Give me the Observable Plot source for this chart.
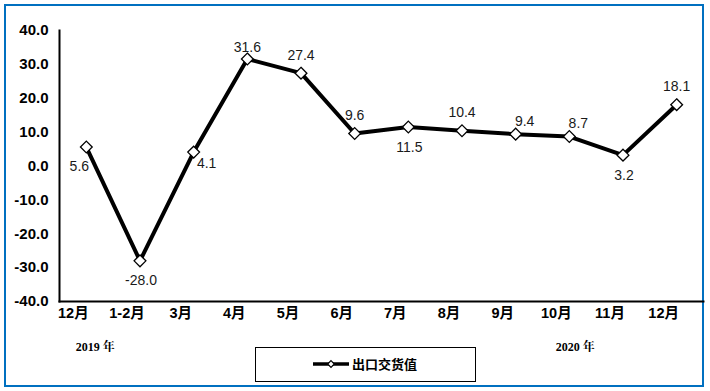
<!DOCTYPE html>
<html>
<head>
<meta charset="utf-8">
<script src="https://cdn.jsdelivr.net/npm/d3@7"></script>
<script src="https://cdn.jsdelivr.net/npm/@observablehq/plot@0.6"></script>
<style>
  html, body { margin: 0; padding: 0; background: #fff; }
  #wrap { position: relative; width: 710px; height: 391px; background: #fff; overflow: hidden; }
  #border { position: absolute; left: 4px; top: 4px; width: 696px; height: 379px; border: 2.5px solid #0070C0; }
  #chart { position: absolute; left: 0; top: 0; }
  #legend { position: absolute; left: 255px; top: 347px; width: 219px; height: 33px; border: 1.5px solid #000; background: #fff;
            font-family: "Noto Sans CJK SC", sans-serif; font-weight: bold; font-size: 13px; }
  #legend svg { position: absolute; left: 56px; top: 8px; }
  #legend span { position: absolute; left: 96px; top: 7px; line-height: 18px; color: #000; }
</style>
</head>
<body>
<div id="wrap">
  <div id="border"></div>
  <div id="chart"></div>
  <div id="legend"></div>
</div>
<script>
// ---- data ----
const months = ["12月", "1-2月", "3月", "4月", "5月", "6月", "7月", "8月", "9月", "10月", "11月", "12月"];
const values = [5.6, -28.0, 4.1, 31.6, 27.4, 9.6, 11.5, 10.4, 9.4, 8.7, 3.2, 18.1];
const yTicks = [-40, -30, -20, -10, 0, 10, 20, 30, 40];
const yearLabels = ["2019 年", "2020 年"];
const yearAt = [0, 9];
const seriesName = "出口交货值";
const labelPlacement = ["belowLeft", "below", "right", "aboveNear", "above", "above", "below", "above", "aboveRight", "aboveRight", "below", "above"];

// ---- build ----
const placements = {
  belowLeft: [-7, 19],
  below: [1, 20],
  right: [13, 11],
  aboveNear: [0, -11],
  above: [0, -18],
  aboveRight: [9, -13]
};
const rows = values.map((v, i) => ({i, v, p: labelPlacement[i]}));
const yearRows = yearLabels.map((t, k) => ({i: yearAt[k], t}));
const yearDx = [9, 6];

const labelMarks = Object.entries(placements).map(([name, [dx, dy]]) =>
  Plot.text(rows.filter(d => d.p === name), {
    x: "i", y: "v", text: d => d.v.toFixed(1), dx, dy,
    fontSize: 14, fill: "#1a1a1a", fontFamily: "Liberation Sans, Arial, sans-serif"
  })
);

const yearMarks = yearRows.map((d, k) =>
  Plot.text([d], {x: "i", y: -40, text: "t", dy: 46, dx: yearDx[k], lineAnchor: "middle",
    fontSize: 12, fontWeight: "bold", fill: "#000",
    fontFamily: "Liberation Serif, Noto Serif CJK SC, Noto Sans CJK SC, serif"})
);

const chart = Plot.plot({
  width: 710,
  height: 391,
  marginTop: 30,
  marginBottom: 90,
  marginLeft: 59,
  marginRight: 7,
  style: {background: "transparent", fontFamily: "Liberation Sans, Arial, sans-serif", color: "#000", overflow: "visible"},
  x: {type: "point", domain: d3.range(months.length), padding: 0.5, round: false, axis: null},
  y: {domain: [-40, 40], axis: null},
  marks: [
    Plot.axisY({ticks: yTicks, tickSize: 0, tickPadding: 11, tickFormat: d => d.toFixed(1), label: null,
      fontSize: 15, fontWeight: "bold", fill: "#000"}),
    Plot.axisX({tickSize: 0, tickPadding: 6, tickFormat: i => months[i], dx: -13, label: null,
      fontSize: 14.5, fontWeight: "bold", fill: "#000", fontFamily: "Liberation Sans, Noto Sans CJK SC, sans-serif"}),
    Plot.frame({anchor: "left", stroke: "#000", strokeWidth: 2}),
    Plot.frame({anchor: "bottom", stroke: "#000", strokeWidth: 2}),
    Plot.line(rows, {x: "i", y: "v", stroke: "#000", strokeWidth: 4, strokeLinejoin: "miter"}),
    Plot.dot(rows, {x: "i", y: "v", symbol: "diamond2", r: 5.3, fill: "#fff", stroke: "#000", strokeWidth: 1.3}),
    ...labelMarks,
    ...yearMarks
  ]
});
document.getElementById("chart").appendChild(chart);

// legend
const leg = document.getElementById("legend");
const legSvg = d3.create("svg").attr("width", 40).attr("height", 16);
legSvg.append("line").attr("x1", 1).attr("x2", 37).attr("y1", 8).attr("y2", 8).attr("stroke", "#000").attr("stroke-width", 3.5);
legSvg.append("path").attr("d", d3.symbol(d3.symbolDiamond2, 28)()).attr("transform", "translate(19,8)")
  .attr("fill", "#fff").attr("stroke", "#000").attr("stroke-width", 1.2);
leg.appendChild(legSvg.node());
const span = document.createElement("span");
span.textContent = seriesName;
leg.appendChild(span);
</script>
</body>
</html>
